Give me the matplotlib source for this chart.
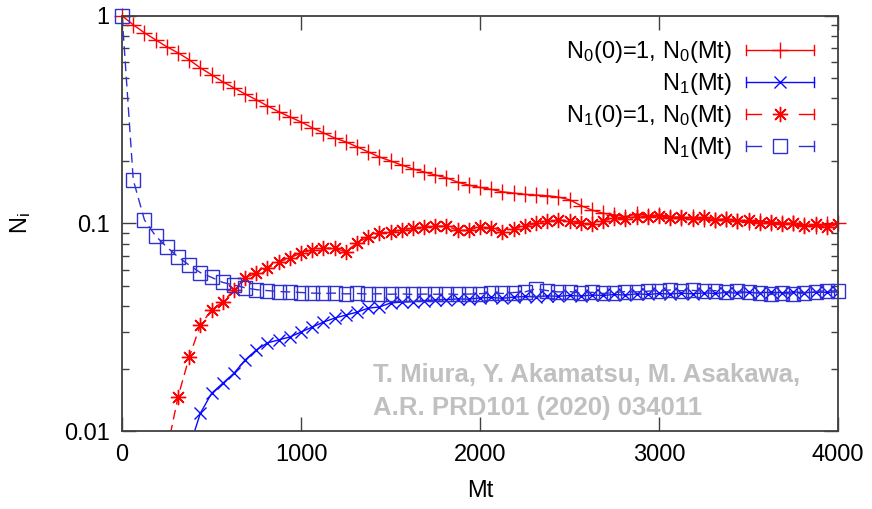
import numpy as np
import matplotlib
matplotlib.use("Agg")
import matplotlib.pyplot as plt
from matplotlib.lines import Line2D
from matplotlib.legend_handler import HandlerBase
from matplotlib.ticker import FixedLocator, LogLocator, NullFormatter

plt.rcParams['font.family'] = ['Liberation Sans', 'DejaVu Sans']
plt.rcParams['mathtext.fontset'] = 'custom'
plt.rcParams['mathtext.rm'] = 'Liberation Sans'
plt.rcParams['mathtext.it'] = 'Liberation Sans:italic'

# time grid (Mt), one point every 62.5
mt = np.arange(65) * 62.5

# N0(0)=1 -> N0(Mt)
n0_from_n0 = [1.0, 0.905, 0.828, 0.766, 0.709, 0.663, 0.614, 0.561, 0.520, 0.481,
              0.450, 0.420, 0.394, 0.368, 0.345, 0.326, 0.308, 0.289, 0.273, 0.258,
              0.247, 0.234, 0.221, 0.209, 0.200, 0.191, 0.183, 0.177, 0.171, 0.166,
              0.158, 0.153, 0.149, 0.146, 0.142, 0.140, 0.138, 0.137, 0.136, 0.134,
              0.130, 0.122, 0.116, 0.112, 0.110, 0.108, 0.111, 0.109, 0.110, 0.108,
              0.106, 0.107, 0.105, 0.104, 0.105, 0.103, 0.102, 0.103, 0.101, 0.100,
              0.100, 0.098, 0.097, 0.099, 0.100]
# N0(0)=1 -> N1(Mt)
n1_from_n0 = [0.0, 0.0001, 0.0006, 0.0018, 0.0035, 0.0058, 0.0083, 0.0122, 0.0152, 0.0170,
              0.0190, 0.0220, 0.0246, 0.0266, 0.0275, 0.0284, 0.0300, 0.0317, 0.0335, 0.0350,
              0.0362, 0.0374, 0.0391, 0.0396, 0.0414, 0.0418, 0.0420, 0.0425, 0.0428, 0.0430,
              0.0433, 0.0432, 0.0438, 0.0440, 0.0436, 0.0442, 0.0445, 0.0443, 0.0448, 0.0446,
              0.0450, 0.0447, 0.0452, 0.0450, 0.0455, 0.0452, 0.0458, 0.0455, 0.0460, 0.0457,
              0.0462, 0.0458, 0.0463, 0.0460, 0.0465, 0.0462, 0.0466, 0.0463, 0.0467, 0.0464,
              0.0468, 0.0465, 0.0467, 0.0466, 0.0468]
# N1(0)=1 -> N0(Mt)
n0_from_n1 = [0.0, 0.0002, 0.001, 0.003, 0.008, 0.0146, 0.0227, 0.0324, 0.0383, 0.0419,
              0.0478, 0.0546, 0.0577, 0.0610, 0.0652, 0.0682, 0.0720, 0.0745, 0.0760, 0.0760,
              0.0730, 0.0805, 0.0860, 0.0900, 0.0910, 0.0930, 0.0950, 0.0960, 0.0970, 0.0970,
              0.0930, 0.0930, 0.0960, 0.0950, 0.0910, 0.0940, 0.0970, 0.1000, 0.1030, 0.1040,
              0.1030, 0.1000, 0.0990, 0.1030, 0.1060, 0.1050, 0.1080, 0.1070, 0.1090, 0.1060,
              0.1080, 0.1050, 0.1070, 0.1040, 0.1050, 0.1030, 0.1040, 0.1010, 0.1020, 0.0990,
              0.1000, 0.0970, 0.0990, 0.0960, 0.0990]
# N1(0)=1 -> N1(Mt)
n1_from_n1 = [1.0, 0.162, 0.104, 0.087, 0.077, 0.069, 0.063, 0.058, 0.055, 0.052,
              0.0505, 0.049, 0.048, 0.0475, 0.047, 0.0468, 0.0465, 0.0462, 0.046, 0.0462,
              0.0458, 0.046, 0.0457, 0.0459, 0.0456, 0.0458, 0.0455, 0.0457, 0.0456, 0.0458,
              0.0455, 0.0457, 0.0459, 0.0462, 0.046, 0.0465, 0.0468, 0.0485, 0.0475, 0.0468,
              0.047, 0.0462, 0.0466, 0.046, 0.0465, 0.047, 0.0468, 0.0472, 0.0475, 0.0478,
              0.0474, 0.0476, 0.0472, 0.0475, 0.0468, 0.0471, 0.0466, 0.0462, 0.0455, 0.046,
              0.0458, 0.0462, 0.047, 0.0475, 0.0472]

labels = ['N$_0$(0)=1, N$_0$(Mt)', 'N$_1$(Mt)', 'N$_1$(0)=1, N$_0$(Mt)', 'N$_1$(Mt)']

RED = '#ff0000'
BLUE = '#0a0aff'
SQBLUE = '#3030d0'


class ErrHandler(HandlerBase):
    # gnuplot style key sample: |--- marker ---|
    def __init__(self, dashed=False):
        super().__init__()
        self.dashed = dashed

    def create_artists(self, legend, orig, xdescent, ydescent, width, height, fontsize, trans):
        x0, x1 = -xdescent, -xdescent + width
        y = (height - ydescent) / 2
        cap = 0.3 * height
        c = orig.get_color()
        lw = orig.get_linewidth()
        arts = []
        if self.dashed:
            seg = 0.22 * width
            arts.append(Line2D([x0, x0 + seg], [y, y], color=c, lw=lw))
            arts.append(Line2D([x1 - seg, x1], [y, y], color=c, lw=lw))
        else:
            arts.append(Line2D([x0, x1], [y, y], color=c, lw=lw))
        arts.append(Line2D([x0, x0], [y - cap, y + cap], color=c, lw=lw))
        arts.append(Line2D([x1, x1], [y - cap, y + cap], color=c, lw=lw))
        arts.append(Line2D([(x0 + x1) / 2], [y], ls='none', marker=orig.get_marker(),
                           ms=orig.get_markersize(), mec=orig.get_markeredgecolor(),
                           mfc='none', mew=orig.get_markeredgewidth()))
        for a in arts:
            a.set_transform(trans)
        return arts


fig = plt.figure(figsize=(8.72, 5.09), dpi=100)
ax = fig.add_axes([0.140, 0.153, 0.821, 0.816])
ax.set_yscale('log', nonpositive='mask')

dash = (0, (7, 4))
h1, = ax.plot(mt, n0_from_n0, color=RED, lw=1.0, marker='+', ms=12, mew=1.0, clip_on=False)
h2, = ax.plot(mt, n1_from_n0, color=BLUE, lw=1.0, marker='x', ms=9, mew=1.0)
h3, = ax.plot(mt, n0_from_n1, color=RED, lw=1.0, ls=dash, marker=(8, 2, 0), ms=11, mew=1.0)
h4, = ax.plot(mt, n1_from_n1, color=SQBLUE, lw=1.0, ls=dash, marker='s', ms=10, mew=1.0,
              mfc='none', clip_on=False)

ax.set_xlim(0, 4000)
ax.set_ylim(0.01, 1)
ax.xaxis.set_major_locator(FixedLocator([0, 1000, 2000, 3000, 4000]))
ax.yaxis.set_major_locator(FixedLocator([0.01, 0.1, 1]))
ax.set_yticklabels(['0.01', '0.1', '1'])
ax.yaxis.set_minor_locator(LogLocator(base=10, subs=np.arange(2, 10)))
ax.yaxis.set_minor_formatter(NullFormatter())
ax.tick_params(which='both', direction='in', top=True, right=True, labelsize=17,
               color='#404040', width=1.0)
ax.tick_params(which='major', length=10)
ax.tick_params(which='minor', length=5)
ax.tick_params(axis='x', pad=9)
ax.tick_params(axis='y', pad=9)
for s in ax.spines.values():
    s.set_color('#404040')
    s.set_linewidth(1.3)

ax.set_xlabel('Mt', fontsize=17, labelpad=10)
ax.set_ylabel('N$_\\mathrm{i}$', fontsize=17, labelpad=22)

leg = ax.legend([h1, h2, h3, h4], labels, loc='upper right', markerfirst=False, frameon=False,
                fontsize=17, handlelength=2.9, handletextpad=0.6, labelspacing=0.25,
                borderaxespad=0.6,
                handler_map={h1: ErrHandler(), h2: ErrHandler(),
                             h3: ErrHandler(dashed=True), h4: ErrHandler(dashed=True)})

fig.text(0.428, 1 - 375 / 509, 'T. Miura, Y. Akamatsu, M. Asakawa,', fontsize=18.5,
         fontweight='bold', color='#c0c0c0', ha='left', va='center')
fig.text(0.428, 1 - 408 / 509, 'A.R. PRD101 (2020) 034011', fontsize=18.5,
         fontweight='bold', color='#c0c0c0', ha='left', va='center')

fig.savefig('out.png', dpi=100)
